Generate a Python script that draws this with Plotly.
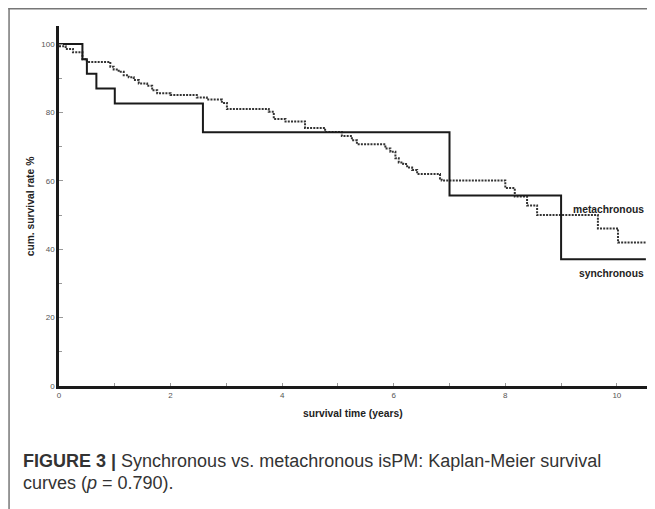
import plotly.graph_objects as go

# ---- data ----
sync_t = [0, 0.42, 0.50, 0.67, 1.00, 2.58, 7.00, 9.00, 10.52]
sync_s = [100, 95.6, 91.3, 87.0, 82.6, 74.2, 55.7, 37.1, 37.1]

meta_t = [0, 0.12, 0.25, 0.42, 0.50, 0.92, 0.98, 1.07, 1.16, 1.25, 1.34, 1.43,
          1.58, 1.67, 1.76, 2.00, 2.47, 2.65, 2.92, 3.01, 3.76, 3.85, 4.06, 4.41,
          4.77, 5.07, 5.25, 5.34, 5.85, 5.94, 6.03, 6.09, 6.17, 6.24, 6.33, 6.42,
          6.83, 6.86, 8.00, 8.17, 8.39, 8.57, 9.66, 10.02, 10.52]
meta_s = [99.4, 98.6, 97.6, 95.6, 94.8, 93.4, 92.6, 91.9, 90.9, 90.3, 89.5, 88.5,
          87.8, 86.5, 85.6, 85.1, 84.4, 83.8, 82.8, 81.0, 80.2, 78.1, 77.4, 75.5,
          74.3, 73.1, 71.9, 70.7, 69.5, 68.5, 66.6, 65.4, 64.9, 63.9, 63.2, 62.0,
          60.7, 60.1, 57.9, 55.4, 52.8, 50.0, 46.1, 42.0, 42.0]

x_ticks = [0, 2, 4, 6, 8, 10]
y_ticks = [0, 20, 40, 60, 80, 100]

x_title = "survival time (years)"
y_title = "cum. survival rate %"
label_meta = "metachronous"
label_sync = "synchronous"
caption1 = "<b>FIGURE 3 |</b> Synchronous vs. metachronous isPM: Kaplan-Meier survival"
caption2 = "curves (<i>p</i> = 0.790)."

# ---- layout geometry (page body adds an 8px offset) ----
OFF = 8
W, H = 655 - OFF, 509 - OFF
ML, MT = 58.7 - OFF, 26 - OFF
PW, PH = 588, 360
MR = W - ML - PW
MB = H - MT - PH


def px(x):
    return (x - OFF - ML) / PW


def py(y):
    return (MT + PH - (y - OFF)) / PH


fig = go.Figure()
fig.add_trace(go.Scatter(x=meta_t, y=meta_s, mode="lines", line_shape="hv",
                         line=dict(color="#333333", width=2, dash="2px,1.2px"),
                         showlegend=False, hoverinfo="skip"))
fig.add_trace(go.Scatter(x=sync_t, y=sync_s, mode="lines", line_shape="hv",
                         line=dict(color="#1a1a1a", width=2),
                         showlegend=False, hoverinfo="skip"))

tickfont = dict(family="Liberation Sans", size=8, color="#555555")
fig.update_xaxes(range=[0, 10.54], tickvals=x_ticks, ticks="inside", ticklen=3,
                 tickcolor="#999999", tickwidth=1, showgrid=False, zeroline=False,
                 showline=True, linecolor="#1a1a1a", linewidth=2.5,
                 tickfont=tickfont,
                 minor=dict(dtick=1, ticks="inside", ticklen=3, tickcolor="#999999",
                            showgrid=False))
fig.update_yaxes(range=[0, 105.3], tickvals=y_ticks, ticks="inside", ticklen=4,
                 tickcolor="#999999", tickwidth=1, showgrid=False, zeroline=False,
                 showline=True, linecolor="#1a1a1a", linewidth=2.5,
                 tickfont=tickfont,
                 minor=dict(dtick=10, ticks="inside", ticklen=3, tickcolor="#999999",
                            showgrid=False))

bold = dict(family="Liberation Sans", size=10.3, color="#222222")
cap = dict(family="Liberation Sans", size=18, color="#333333")
annotations = [
    dict(text="<b>%s</b>" % y_title, x=px(30), y=py(206), textangle=-90, font=bold),
    dict(text="<b>%s</b>" % x_title, x=px(353), y=py(413), font=bold),
    dict(text="<b>%s</b>" % label_meta, x=px(646), y=py(209.5), xanchor="right", font=bold),
    dict(text="<b>%s</b>" % label_sync, x=px(646), y=py(273), xanchor="right", font=bold),
    dict(text=caption1, x=px(21), y=py(461), xanchor="left", font=cap),
    dict(text=caption2, x=px(21), y=py(483), xanchor="left", font=cap),
]
for a in annotations:
    a.update(xref="paper", yref="paper", showarrow=False)
    a.setdefault("xanchor", "center")
    a.setdefault("yanchor", "middle")

shapes = [
    dict(type="line", xref="paper", yref="paper", x0=px(8), x1=px(660), y0=py(8.75), y1=py(8.75),
         line=dict(color="#777777", width=1.5)),
    dict(type="line", xref="paper", yref="paper", x0=px(8.75), x1=px(8.75), y0=py(8), y1=py(515),
         line=dict(color="#777777", width=1.5)),
]

fig.update_layout(width=W, height=H, margin=dict(l=ML, r=MR, t=MT, b=MB),
                  paper_bgcolor="white", plot_bgcolor="white",
                  annotations=annotations, shapes=shapes, showlegend=False)

fig.write_html("out.html")
